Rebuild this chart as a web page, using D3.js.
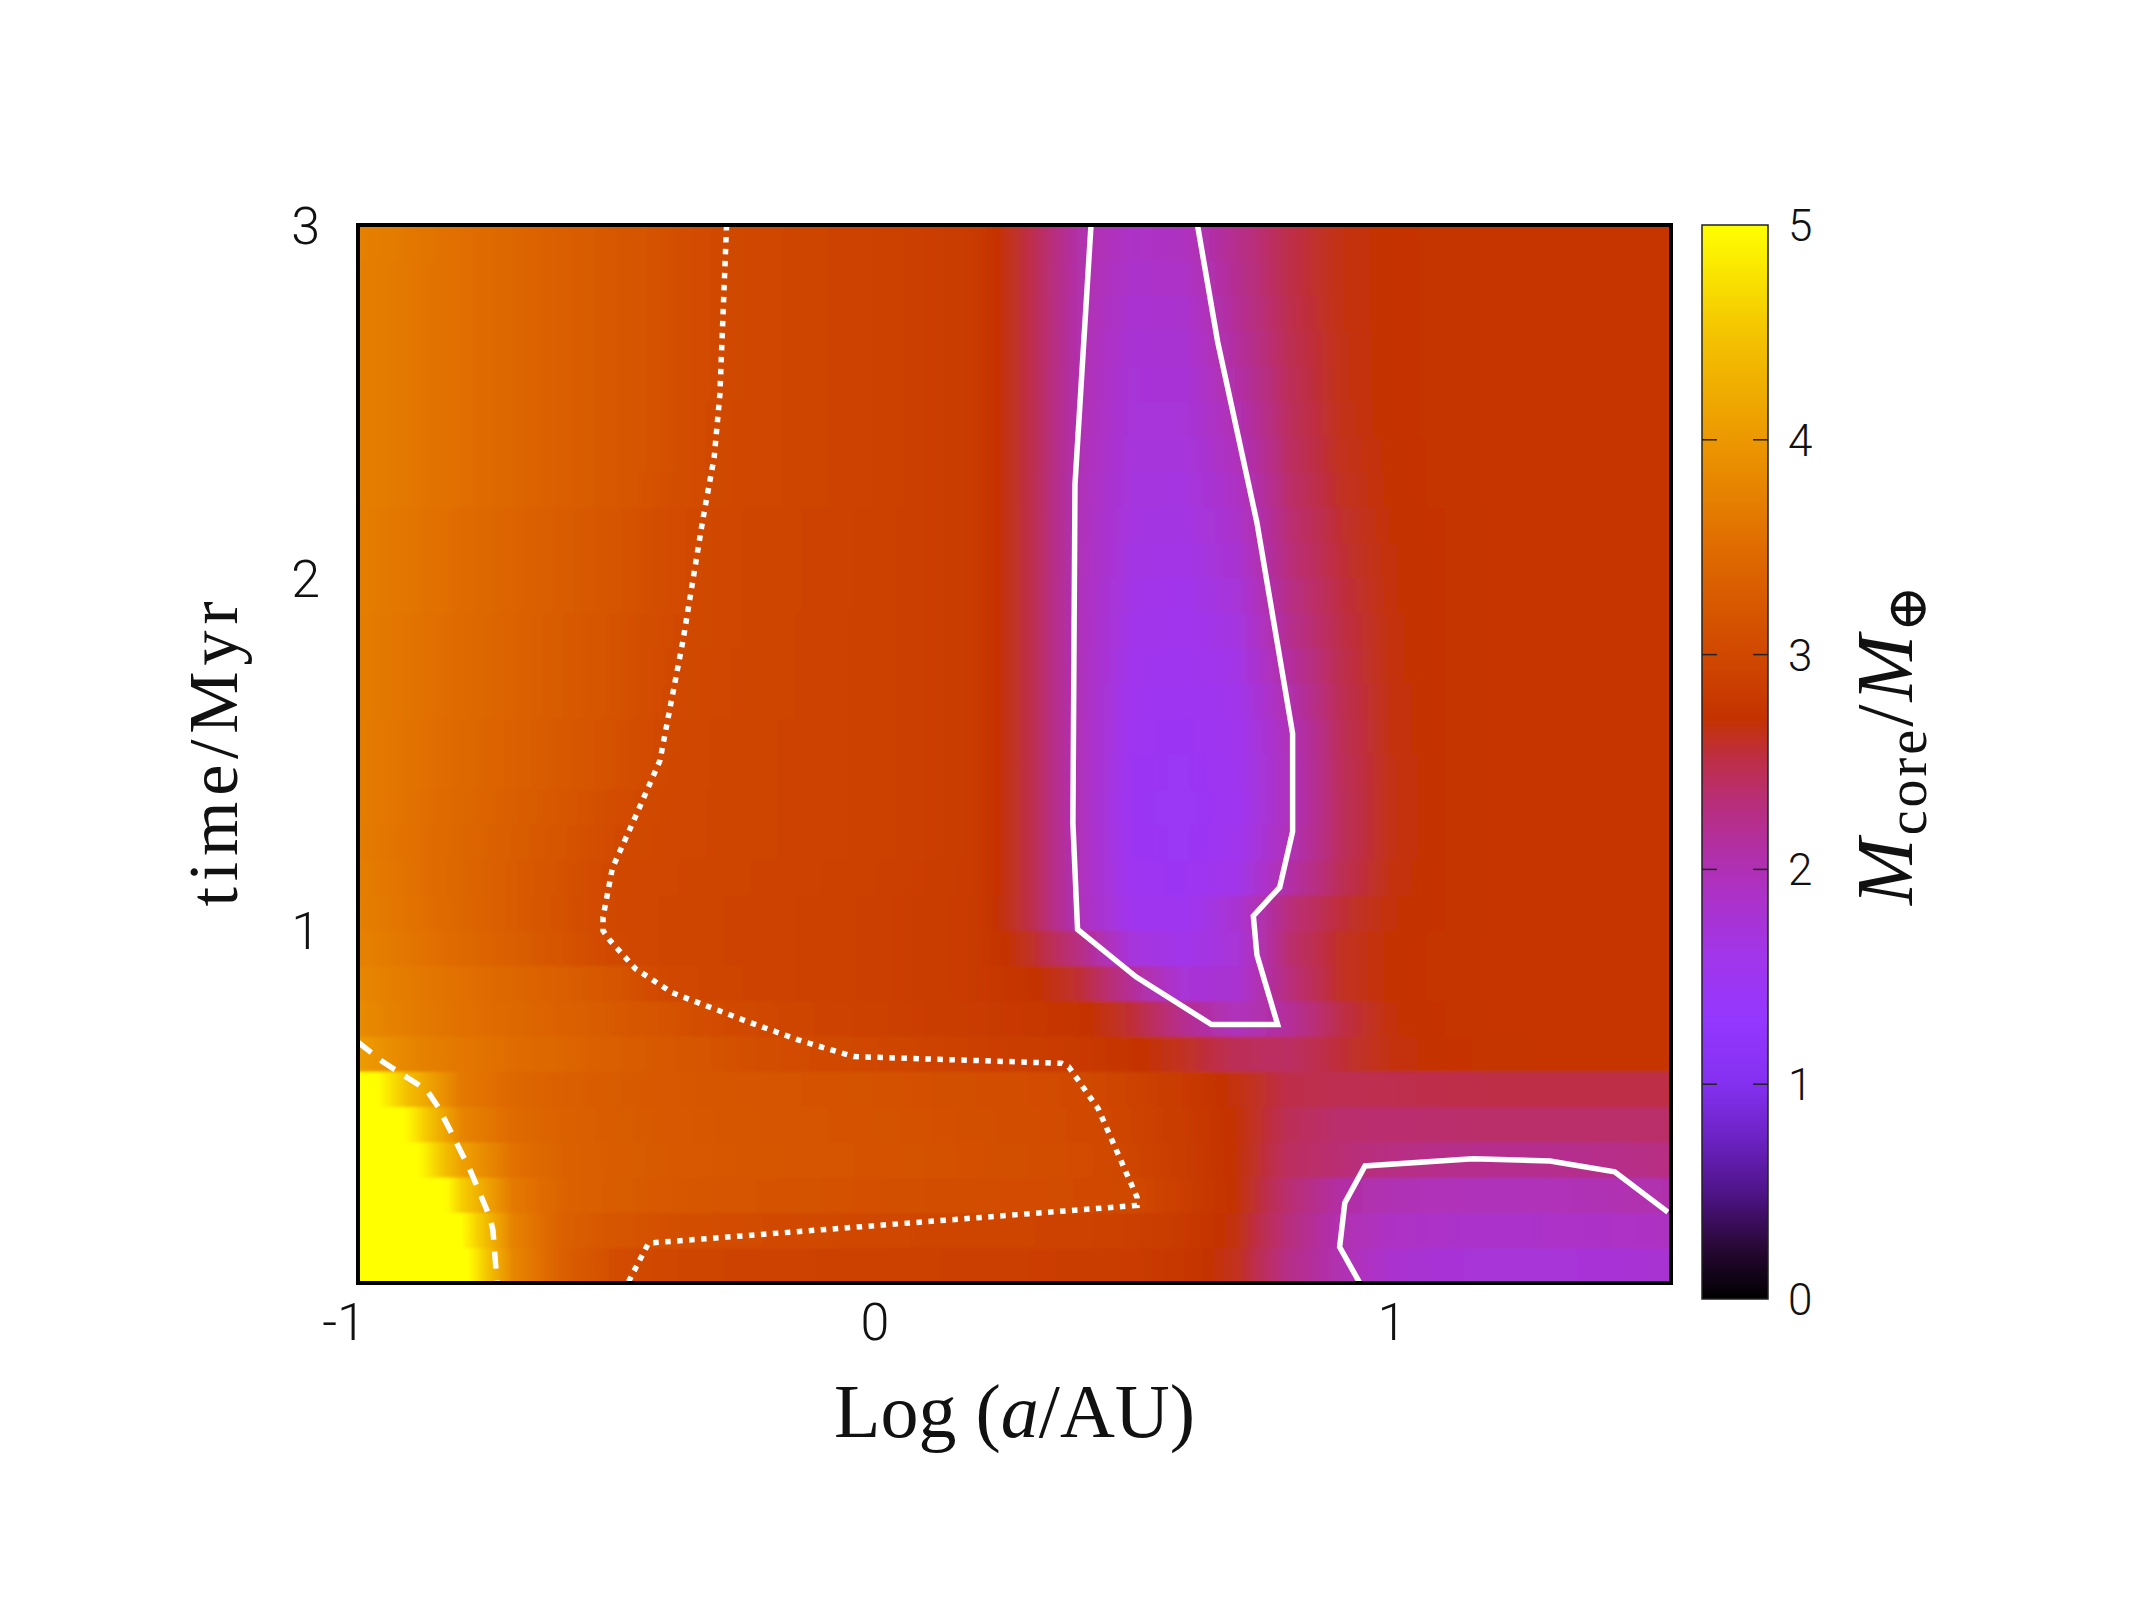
<!DOCTYPE html>
<html>
<head>
<meta charset="utf-8">
<script src="https://cdn.jsdelivr.net/npm/d3@7"></script>
<style>
  body { margin: 0; background: #fff; }
  .tick-label { font-family: Roboto, "Liberation Sans", sans-serif; font-weight: 300; fill: #111; }
  .title { font-family: "Liberation Serif", "DejaVu Serif", serif; fill: #111; }
</style>
</head>
<body>
<div id="chart"></div>
<script>
// x columns of the grid (Log a/AU)
const xCols = [-1, -0.9, -0.8, -0.7, -0.6, -0.5, -0.4, -0.3, -0.2, -0.1, 0, 0.1, 0.2, 0.3, 0.4, 0.5, 0.6, 0.7, 0.8, 0.9, 1.0, 1.1, 1.2, 1.3, 1.4, 1.55];
// lower edge of each time band (Myr), band height 0.1
const tBands = [0, 0.1, 0.2, 0.3, 0.4, 0.5, 0.6, 0.7, 0.8, 0.9, 1.0, 1.1, 1.2, 1.3, 1.4, 1.5, 1.6, 1.7, 1.8, 1.9, 2.0, 2.1, 2.2, 2.3, 2.4, 2.5, 2.6, 2.7, 2.8, 2.9];
const bandStep = 0.1;
// core mass per band (rows) and x column
const coreMass = [
  [6.2, 6.2, 5.2, 3.8, 3.3, 3.06, 2.97, 2.94, 2.92, 2.91, 2.9, 2.89, 2.88, 2.87, 2.85, 2.82, 2.76, 2.62, 2.25, 2.02, 1.82, 1.76, 1.74, 1.74, 1.76, 1.79],
  [6.2, 6.2, 5.0, 3.75, 3.32, 3.18, 3.1, 3.06, 3.03, 3.0, 2.98, 2.96, 2.95, 2.94, 2.92, 2.88, 2.8, 2.65, 2.3, 2.02, 1.9, 1.86, 1.85, 1.86, 1.88, 1.92],
  [6.2, 6.0, 4.6, 3.65, 3.36, 3.27, 3.22, 3.18, 3.15, 3.13, 3.11, 3.09, 3.07, 3.05, 3.03, 3.0, 2.85, 2.68, 2.35, 2.1, 2.0, 1.97, 1.96, 1.97, 2.0, 2.06],
  [6.0, 5.2, 4.1, 3.55, 3.35, 3.28, 3.24, 3.21, 3.19, 3.17, 3.15, 3.13, 3.11, 3.09, 3.05, 2.95, 2.83, 2.68, 2.42, 2.33, 2.27, 2.23, 2.21, 2.21, 2.23, 2.27],
  [5.8, 4.9, 3.78, 3.47, 3.34, 3.27, 3.23, 3.2, 3.18, 3.16, 3.14, 3.12, 3.1, 3.07, 3.02, 2.93, 2.82, 2.68, 2.45, 2.36, 2.35, 2.36, 2.37, 2.37, 2.37, 2.38],
  [5.4, 4.4, 3.65, 3.43, 3.32, 3.26, 3.22, 3.19, 3.17, 3.15, 3.13, 3.11, 3.09, 3.06, 3.01, 2.92, 2.8, 2.66, 2.5, 2.47, 2.48, 2.5, 2.51, 2.51, 2.51, 2.51],
  [4.05, 3.78, 3.62, 3.5, 3.4, 3.3, 3.22, 3.14, 3.07, 3.02, 2.97, 2.93, 2.88, 2.84, 2.8, 2.72, 2.6, 2.45, 2.4, 2.55, 2.66, 2.71, 2.73, 2.74, 2.74, 2.74],
  [3.85, 3.68, 3.55, 3.44, 3.34, 3.24, 3.14, 3.04, 2.97, 2.93, 2.9, 2.86, 2.82, 2.78, 2.72, 2.55, 2.2, 1.95, 2.15, 2.5, 2.68, 2.72, 2.74, 2.75, 2.75, 2.75],
  [3.8, 3.66, 3.54, 3.42, 3.3, 3.17, 2.99, 2.95, 2.92, 2.9, 2.88, 2.85, 2.8, 2.72, 2.55, 2.15, 1.75, 1.8, 2.3, 2.6, 2.7, 2.73, 2.74, 2.75, 2.75, 2.75],
  [3.75, 3.6, 3.45, 3.3, 3.15, 3.0, 2.96, 2.94, 2.92, 2.9, 2.88, 2.85, 2.8, 2.6, 2.25, 1.7, 1.6, 1.75, 2.35, 2.6, 2.7, 2.73, 2.74, 2.75, 2.75, 2.75],
  [3.72, 3.57, 3.42, 3.27, 3.12, 2.99, 2.96, 2.94, 2.92, 2.9, 2.88, 2.85, 2.8, 2.5, 1.95, 1.55, 1.52, 1.8, 2.3, 2.55, 2.68, 2.72, 2.74, 2.75, 2.75, 2.75],
  [3.7, 3.56, 3.41, 3.27, 3.13, 2.99, 2.97, 2.95, 2.93, 2.91, 2.89, 2.86, 2.81, 2.5, 1.95, 1.5, 1.47, 1.6, 2.08, 2.45, 2.66, 2.72, 2.74, 2.75, 2.75, 2.75],
  [3.68, 3.55, 3.42, 3.29, 3.16, 3.03, 2.98, 2.96, 2.94, 2.92, 2.9, 2.87, 2.81, 2.5, 1.95, 1.48, 1.44, 1.54, 1.99, 2.42, 2.65, 2.72, 2.74, 2.75, 2.75, 2.75],
  [3.68, 3.56, 3.43, 3.31, 3.19, 3.06, 2.98, 2.96, 2.94, 2.92, 2.9, 2.87, 2.81, 2.5, 1.95, 1.47, 1.43, 1.52, 1.96, 2.42, 2.65, 2.72, 2.74, 2.75, 2.75, 2.75],
  [3.68, 3.57, 3.45, 3.34, 3.22, 3.11, 2.99, 2.96, 2.94, 2.92, 2.9, 2.87, 2.81, 2.5, 1.95, 1.48, 1.44, 1.53, 1.96, 2.43, 2.65, 2.72, 2.74, 2.75, 2.75, 2.75],
  [3.68, 3.57, 3.45, 3.34, 3.22, 3.11, 3.0, 2.96, 2.94, 2.92, 2.9, 2.87, 2.81, 2.5, 1.95, 1.5, 1.46, 1.55, 1.97, 2.44, 2.66, 2.72, 2.74, 2.75, 2.75, 2.75],
  [3.69, 3.58, 3.47, 3.36, 3.25, 3.14, 3.02, 2.97, 2.95, 2.92, 2.9, 2.87, 2.81, 2.5, 1.95, 1.53, 1.49, 1.58, 2.04, 2.46, 2.66, 2.72, 2.74, 2.75, 2.75, 2.75],
  [3.69, 3.58, 3.47, 3.36, 3.25, 3.14, 3.03, 2.97, 2.95, 2.92, 2.9, 2.87, 2.81, 2.5, 1.95, 1.56, 1.52, 1.63, 2.12, 2.48, 2.67, 2.72, 2.74, 2.75, 2.75, 2.75],
  [3.69, 3.58, 3.47, 3.36, 3.25, 3.14, 3.04, 2.98, 2.95, 2.92, 2.9, 2.87, 2.81, 2.5, 1.95, 1.59, 1.55, 1.68, 2.2, 2.5, 2.67, 2.72, 2.74, 2.75, 2.75, 2.75],
  [3.7, 3.6, 3.49, 3.38, 3.27, 3.17, 3.06, 2.98, 2.95, 2.93, 2.9, 2.87, 2.81, 2.5, 1.95, 1.62, 1.58, 1.74, 2.25, 2.52, 2.68, 2.72, 2.74, 2.75, 2.75, 2.75],
  [3.7, 3.6, 3.49, 3.38, 3.27, 3.17, 3.06, 2.98, 2.95, 2.93, 2.9, 2.87, 2.81, 2.5, 1.96, 1.65, 1.62, 1.8, 2.3, 2.55, 2.68, 2.72, 2.74, 2.75, 2.75, 2.75],
  [3.7, 3.6, 3.49, 3.38, 3.27, 3.17, 3.06, 2.98, 2.95, 2.93, 2.9, 2.87, 2.81, 2.5, 1.96, 1.67, 1.65, 1.85, 2.33, 2.57, 2.69, 2.72, 2.74, 2.75, 2.75, 2.75],
  [3.72, 3.62, 3.52, 3.42, 3.31, 3.21, 3.1, 3.0, 2.97, 2.94, 2.91, 2.87, 2.81, 2.5, 1.97, 1.69, 1.68, 1.9, 2.37, 2.6, 2.7, 2.73, 2.74, 2.75, 2.75, 2.75],
  [3.72, 3.62, 3.52, 3.42, 3.31, 3.21, 3.11, 3.0, 2.97, 2.94, 2.91, 2.87, 2.81, 2.5, 1.99, 1.71, 1.71, 1.96, 2.4, 2.62, 2.7, 2.73, 2.74, 2.75, 2.75, 2.75],
  [3.72, 3.62, 3.52, 3.42, 3.31, 3.21, 3.11, 3.0, 2.97, 2.94, 2.91, 2.87, 2.81, 2.5, 2.0, 1.73, 1.74, 2.02, 2.42, 2.63, 2.71, 2.73, 2.74, 2.75, 2.75, 2.75],
  [3.72, 3.62, 3.52, 3.42, 3.31, 3.21, 3.11, 3.01, 2.97, 2.94, 2.91, 2.87, 2.81, 2.5, 2.01, 1.75, 1.76, 2.08, 2.44, 2.64, 2.71, 2.73, 2.74, 2.75, 2.75, 2.75],
  [3.72, 3.62, 3.52, 3.42, 3.31, 3.21, 3.11, 3.01, 2.97, 2.94, 2.91, 2.87, 2.81, 2.5, 2.02, 1.77, 1.79, 2.13, 2.46, 2.64, 2.71, 2.73, 2.74, 2.75, 2.75, 2.75],
  [3.72, 3.62, 3.52, 3.42, 3.31, 3.21, 3.11, 3.01, 2.97, 2.94, 2.91, 2.87, 2.81, 2.5, 2.03, 1.8, 1.83, 2.17, 2.48, 2.65, 2.71, 2.73, 2.74, 2.75, 2.75, 2.75],
  [3.72, 3.62, 3.52, 3.42, 3.31, 3.21, 3.11, 3.01, 2.97, 2.94, 2.91, 2.87, 2.81, 2.5, 2.04, 1.84, 1.88, 2.2, 2.5, 2.65, 2.71, 2.73, 2.74, 2.75, 2.75, 2.75],
  [3.73, 3.63, 3.52, 3.42, 3.31, 3.21, 3.11, 3.01, 2.97, 2.94, 2.91, 2.87, 2.81, 2.5, 2.05, 1.88, 1.93, 2.22, 2.5, 2.65, 2.71, 2.73, 2.74, 2.75, 2.75, 2.75]
];

// palette (value -> colour)
const paletteValues = [0, 0.25, 0.5, 0.75, 1.0, 1.3, 1.6, 1.9, 2.1, 2.3, 2.5, 2.7, 3.0, 3.5, 4.0, 4.5, 5.0];
const paletteColors = ["#000000", "#2a0838", "#50148a", "#6c22c4", "#8430f0", "#9437ff", "#a236ea", "#ad31c4", "#b22fa4", "#b82e7c", "#be2e4a", "#c43200", "#d04800", "#e06c00", "#ec9800", "#f4c400", "#ffff00"];

// contour lines, [log a, time]
const contour2a = [[0.418, 3.0], [0.387, 2.264], [0.383, 1.303], [0.392, 1.003], [0.505, 0.868], [0.651, 0.733], [0.779, 0.733], [0.739, 0.930], [0.732, 1.041], [0.783, 1.122], [0.808, 1.280], [0.808, 1.558], [0.739, 2.156], [0.663, 2.669], [0.624, 3.0]];
const contour2b = [[0.938, 0], [0.899, 0.102], [0.909, 0.227], [0.948, 0.332], [1.157, 0.352], [1.306, 0.346], [1.431, 0.315], [1.534, 0.201]];
const contour3 = [[-0.287, 3.0], [-0.300, 2.518], [-0.311, 2.341], [-0.333, 2.164], [-0.371, 1.824], [-0.416, 1.481], [-0.461, 1.330], [-0.508, 1.176], [-0.526, 1.037], [-0.526, 0.999], [-0.513, 0.972], [-0.463, 0.891], [-0.392, 0.823], [-0.248, 0.742], [-0.142, 0.686], [-0.041, 0.642], [0.361, 0.623], [0.375, 0.613], [0.432, 0.494], [0.507, 0.243], [0.507, 0.220], [-0.438, 0.113], [-0.478, 0]];
const contour4 = [[-1.0, 0.683], [-0.952, 0.627], [-0.867, 0.547], [-0.845, 0.499], [-0.822, 0.434], [-0.783, 0.320], [-0.745, 0.187], [-0.739, 0.150], [-0.731, 0]];

const xTicks = [-1, 0, 1];
const yTicks = [1, 2, 3];
const cbTicks = [0, 1, 2, 3, 4, 5];

const width = 2134, height = 1600;
const plot = { left: 358, right: 1671, top: 225, bottom: 1283 };
const cb = { left: 1702, right: 1768, top: 225, bottom: 1299 };

const svg = d3.select("#chart").append("svg")
  .attr("width", width)
  .attr("height", height);
const defs = svg.append("defs");

const x = d3.scaleLinear().domain([-1, 1.54]).range([plot.left, plot.right]);
const y = d3.scaleLinear().domain([0, 3]).range([plot.bottom, plot.top]);
const cbScale = d3.scaleLinear().domain([0, 5]).range([cb.bottom, cb.top]);
const color = d3.scaleLinear().domain(paletteValues).range(paletteColors).clamp(true);

defs.append("clipPath").attr("id", "plotClip")
  .append("rect")
  .attr("x", plot.left).attr("y", plot.top)
  .attr("width", plot.right - plot.left).attr("height", plot.bottom - plot.top);

const blur = defs.append("filter").attr("id", "bandBlur")
  .attr("x", "-5%").attr("y", "-5%").attr("width", "110%").attr("height", "110%");
blur.append("feGaussianBlur").attr("stdDeviation", "0 1.5");

// one horizontal gradient per time band
const gx0 = x(xCols[0]), gx1 = x(xCols[xCols.length - 1]);
coreMass.forEach((row, i) => {
  const grad = defs.append("linearGradient")
    .attr("id", "band" + i)
    .attr("gradientUnits", "userSpaceOnUse")
    .attr("x1", gx0).attr("x2", gx1).attr("y1", 0).attr("y2", 0);
  const stops = [];
  for (let j = 0; j < xCols.length - 1; j++) {
    const steps = 8;
    for (let s = 0; s < steps; s++) {
      const f = s / steps;
      const v = row[j] + (row[j + 1] - row[j]) * f;
      const px = x(xCols[j]) + (x(xCols[j + 1]) - x(xCols[j])) * f;
      stops.push({ o: (px - gx0) / (gx1 - gx0), c: color(v) });
    }
  }
  stops.push({ o: 1, c: color(row[row.length - 1]) });
  grad.selectAll("stop").data(stops).enter().append("stop")
    .attr("offset", d => d.o)
    .attr("stop-color", d => d.c);
});

const heat = svg.append("g").attr("clip-path", "url(#plotClip)")
  .append("g").attr("filter", "url(#bandBlur)");
heat.selectAll("rect").data(tBands).enter().append("rect")
  .attr("x", plot.left)
  .attr("width", plot.right - plot.left)
  .attr("y", (d, i) => y(d + bandStep) - (i === tBands.length - 1 ? 10 : 0.5))
  .attr("height", (d, i) => y(d) - y(d + bandStep) + 1 + (i === 0 || i === tBands.length - 1 ? 10 : 0))
  .attr("fill", (d, i) => "url(#band" + i + ")");

// contours
const line = d3.line().x(d => x(d[0])).y(d => y(d[1]));
const contourG = svg.append("g").attr("clip-path", "url(#plotClip)")
  .attr("fill", "none").attr("stroke", "#fff").attr("stroke-width", 5.5);
contourG.append("path").attr("d", line(contour2a));
contourG.append("path").attr("d", line(contour2b));
contourG.append("path").attr("d", line(contour3)).attr("stroke-dasharray", "5.5 6.5");
contourG.append("path").attr("d", line(contour4)).attr("stroke-dasharray", "17 12");

// frame
svg.append("rect")
  .attr("x", plot.left).attr("y", plot.top)
  .attr("width", plot.right - plot.left).attr("height", plot.bottom - plot.top)
  .attr("fill", "none").attr("stroke", "#000").attr("stroke-width", 4);

// tick labels
svg.append("g").selectAll("text").data(xTicks).enter().append("text")
  .attr("class", "tick-label")
  .attr("x", d => d === -1 ? x(d) - 14 : x(d))
  .attr("y", 1340)
  .attr("text-anchor", "middle")
  .attr("font-size", 52)
  .text(d => d);

svg.append("g").selectAll("text").data(yTicks).enter().append("text")
  .attr("class", "tick-label")
  .attr("x", 320)
  .attr("y", d => y(d) + 19)
  .attr("text-anchor", "end")
  .attr("font-size", 52)
  .text(d => d);

// colour bar
const cbGrad = defs.append("linearGradient").attr("id", "cbGrad")
  .attr("x1", 0).attr("y1", 1).attr("x2", 0).attr("y2", 0);
cbGrad.selectAll("stop").data(paletteValues).enter().append("stop")
  .attr("offset", d => d / 5)
  .attr("stop-color", d => color(d));

svg.append("rect")
  .attr("x", cb.left).attr("y", cb.top)
  .attr("width", cb.right - cb.left).attr("height", cb.bottom - cb.top)
  .attr("fill", "url(#cbGrad)")
  .attr("stroke", "#222").attr("stroke-width", 1.5);

const cbInner = cbTicks.filter(d => d > 0 && d < 5);
svg.append("g").selectAll("line.l").data(cbInner).enter().append("line")
  .attr("x1", cb.left).attr("x2", cb.left + 15)
  .attr("y1", d => cbScale(d)).attr("y2", d => cbScale(d))
  .attr("stroke", "#222").attr("stroke-width", 1.5);
svg.append("g").selectAll("line.r").data(cbInner).enter().append("line")
  .attr("x1", cb.right - 15).attr("x2", cb.right)
  .attr("y1", d => cbScale(d)).attr("y2", d => cbScale(d))
  .attr("stroke", "#222").attr("stroke-width", 1.5);

svg.append("g").selectAll("text").data(cbTicks).enter().append("text")
  .attr("class", "tick-label")
  .attr("x", 1788)
  .attr("y", d => cbScale(d) + 16)
  .attr("font-size", 44)
  .text(d => d);

// axis titles
const xt = svg.append("text").attr("class", "title")
  .attr("x", (plot.left + plot.right) / 2).attr("y", 1437)
  .attr("text-anchor", "middle").attr("font-size", 76);
xt.append("tspan").text("Log (");
xt.append("tspan").attr("font-style", "italic").text("a");
xt.append("tspan").text("/AU)");

svg.append("text").attr("class", "title")
  .attr("transform", "translate(237," + ((plot.top + plot.bottom) / 2) + ") rotate(-90)")
  .attr("text-anchor", "middle").attr("font-size", 70)
  .attr("textLength", 305).attr("lengthAdjust", "spacing")
  .text("time/Myr");

const ct = svg.append("text").attr("class", "title")
  .attr("transform", "translate(1912,745) rotate(-90)")
  .attr("text-anchor", "middle").attr("font-size", 80)
  .attr("textLength", 320).attr("lengthAdjust", "spacing");
ct.append("tspan").attr("font-style", "italic").text("M");
ct.append("tspan").attr("font-size", 56).attr("dy", 14).text("core");
ct.append("tspan").attr("dy", -14).text("/");
ct.append("tspan").attr("font-style", "italic").text("M");
ct.append("tspan").attr("font-size", 56).attr("dy", 14).attr("font-family", "DejaVu Serif").text("⊕");
</script>
</body>
</html>
